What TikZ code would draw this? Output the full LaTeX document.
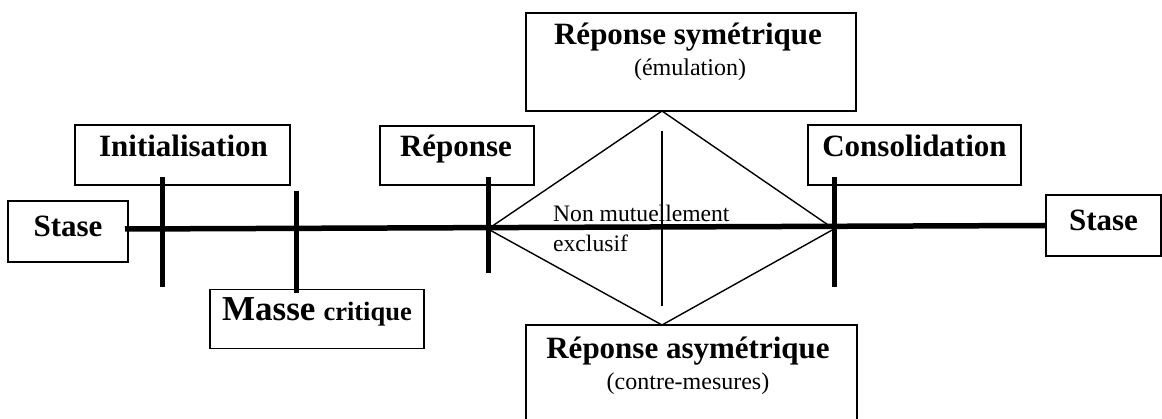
\documentclass[tikz,border=0pt]{standalone}
\usepackage{fontspec}
\setmainfont{Liberation Serif}
\begin{document}
\begin{tikzpicture}[x=1pt,y=-1pt,
  box/.style={draw, rectangle, line width=1.4pt, inner sep=0pt},
  title/.style={anchor=base, inner sep=0pt, font=\fontsize{31}{36}\selectfont\bfseries},
  sub/.style={anchor=base, inner sep=0pt, font=\fontsize{24}{28}\selectfont},
  note/.style={anchor=base west, inner sep=0pt, font=\fontsize{23.6}{28}\selectfont},
  tickline/.style={line width=5pt},
  axis/.style={line width=5.5pt},
  thinline/.style={line width=1.4pt}]
\clip (0,0) rectangle (1162,419);

% boxes
\node[box, minimum width=120pt, minimum height=61pt] (stL) at (68,231.5) {};
\node[box, minimum width=215pt, minimum height=60pt] (init) at (182.5,155) {};
\node[box, minimum width=214pt, minimum height=59pt] (masse) at (317,319) {};
\node[box, minimum width=154pt, minimum height=59pt] (rep) at (457,155.5) {};
\node[box, minimum width=330pt, minimum height=98pt] (sym) at (691,62) {};
\node[box, minimum width=331pt, minimum height=110pt] (asym) at (691.5,380) {};
\node[box, minimum width=213pt, minimum height=60pt] (cons) at (914.5,155) {};
\node[box, minimum width=115pt, minimum height=61pt] (stR) at (1103.5,225.5) {};

% labels
\node[title] (stLt) at (68,237) {Stase};
\node[title] (initt) at (183.5,157) {Initialisation};
\node[anchor=base west, inner sep=0pt] (masset) at (222,321)
  {\bfseries{\fontsize{35}{40}\selectfont Masse}\hspace{8pt}{\fontsize{26.5}{30}\selectfont critique}};
\node[title] (rept) at (456,157) {Réponse};
\node[title] (symt) at (688,45) {Réponse symétrique};
\node[sub] (syms) at (690,76) {(émulation)};
\node[title] (asymt) at (688,359) {Réponse asymétrique};
\node[sub] (asyms) at (688,390) {(contre-mesures)};
\node[title] (const) at (914.5,157) {Consolidation};
\node[title] (stRt) at (1103.5,231) {Stase};
\node[note] (nm1) at (553,222) {Non mutuellement};
\node[note] (nm2) at (553,252) {exclusif};

% points on the time line
\coordinate (a) at (162,229);
\coordinate (b) at (296,229);
\coordinate (c) at (488,229);
\coordinate (d) at (834,229);
\coordinate (top) at (662,111);
\coordinate (bot) at (662,325);

% main time line
\draw[axis] (125,229) -- (stR.west);

% phase ticks
\draw[tickline] (162,177) -- (162,287);
\draw[tickline] (296,191) -- (296,293);
\draw[tickline] (488,177) -- (488,273);
\draw[tickline] (834,177) -- (834,287);

% branching of the response
\draw[thinline, line join=miter] (c) -- (top) -- (d) -- (bot) -- cycle;
\draw[thinline] (662,131) -- (662,306);
\end{tikzpicture}
\end{document}
